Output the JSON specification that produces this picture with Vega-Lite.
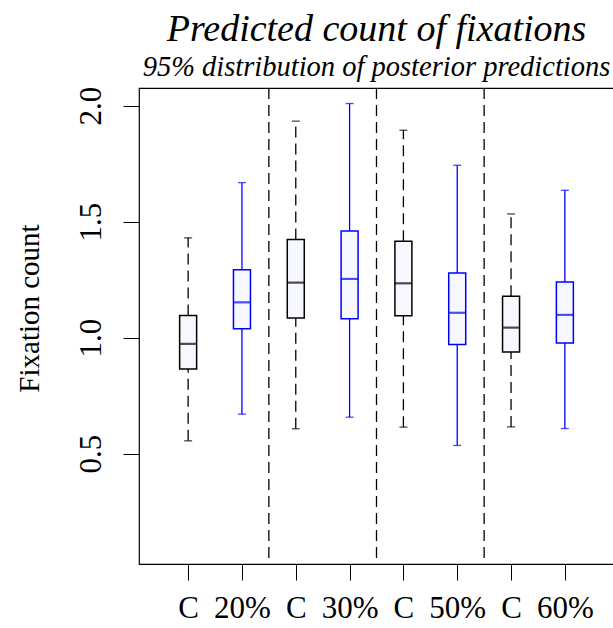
{
  "$schema": "https://vega.github.io/schema/vega-lite/v6.json",
  "autosize": "none",
  "width": 475,
  "height": 476,
  "padding": {"left": 139, "top": 88, "right": 0, "bottom": 64},
  "background": "white",
  "config": {
    "view": {"stroke": "black", "strokeWidth": 1.2},
    "font": "Liberation Serif"
  },
  "title": {
    "text": "Predicted count of fixations",
    "subtitle": "95% distribution of posterior predictions",
    "font": "Liberation Serif",
    "subtitleFont": "Liberation Serif",
    "fontSize": 38,
    "subtitleFontSize": 28.5,
    "fontStyle": "italic",
    "subtitleFontStyle": "italic",
    "fontWeight": "normal",
    "subtitleFontWeight": "normal",
    "color": "black",
    "subtitleColor": "black",
    "anchor": "middle",
    "offset": 5,
    "subtitlePadding": 4
  },
  "datasets": {
    "boxes": [
      {"pos": 1, "lab": "C", "grp": "C", "lo": 0.555, "q1": 0.865, "med": 0.973, "q3": 1.095, "hi": 1.430},
      {"pos": 2, "lab": "20%", "grp": "T", "lo": 0.670, "q1": 1.038, "med": 1.152, "q3": 1.293, "hi": 1.668},
      {"pos": 3, "lab": "C", "grp": "C", "lo": 0.607, "q1": 1.085, "med": 1.237, "q3": 1.423, "hi": 1.933},
      {"pos": 4, "lab": "30%", "grp": "T", "lo": 0.657, "q1": 1.081, "med": 1.253, "q3": 1.460, "hi": 2.009},
      {"pos": 5, "lab": "C", "grp": "C", "lo": 0.614, "q1": 1.094, "med": 1.234, "q3": 1.415, "hi": 1.894},
      {"pos": 6, "lab": "50%", "grp": "T", "lo": 0.535, "q1": 0.970, "med": 1.107, "q3": 1.279, "hi": 1.743},
      {"pos": 7, "lab": "C", "grp": "C", "lo": 0.615, "q1": 0.938, "med": 1.043, "q3": 1.178, "hi": 1.533},
      {"pos": 8, "lab": "60%", "grp": "T", "lo": 0.608, "q1": 0.977, "med": 1.098, "q3": 1.240, "hi": 1.635}
    ],
    "seps": [
      {"pos": 2.5},
      {"pos": 4.5},
      {"pos": 6.5}
    ]
  },
  "encoding": {
    "x": {
      "field": "pos",
      "type": "quantitative",
      "scale": {"domain": [0.18, 8.82], "nice": false, "zero": false},
      "axis": {
        "values": [1, 2, 3, 4, 5, 6, 7, 8],
        "labelExpr": "['C','20%','C','30%','C','50%','C','60%'][datum.value-1]",
        "title": null,
        "grid": false,
        "domain": false,
        "tickSize": 16,
        "tickColor": "black",
        "tickWidth": 1,
        "labelFont": "Liberation Serif",
        "labelFontSize": 31,
        "labelColor": "black",
        "labelBaseline": "alphabetic",
        "labelPadding": 37,
        "labelFlush": false,
        "labelOverlap": false
      }
    }
  },
  "layer": [
    {
      "data": {"name": "seps"},
      "mark": {"type": "rule", "color": "black", "strokeWidth": 1.3, "strokeDash": [11, 6]},
      "encoding": {}
    },
    {
      "data": {"name": "boxes"},
      "mark": {"type": "rule", "strokeWidth": 1.3},
      "encoding": {
        "y": {"field": "q3", "type": "quantitative", "title": "Fixation count", "scale": {"domain": [0.024, 2.076], "nice": false, "zero": false}},
        "y2": {"field": "hi"},
        "color": {"field": "grp", "type": "nominal", "scale": {"domain": ["C", "T"], "range": ["#000000", "#0000FF"]}, "legend": null},
        "strokeDash": {"field": "grp", "type": "nominal", "scale": {"domain": ["C", "T"], "range": [[11, 6], [1, 0]]}, "legend": null}
      }
    },
    {
      "data": {"name": "boxes"},
      "mark": {"type": "rule", "strokeWidth": 1.3},
      "encoding": {
        "y": {"field": "lo", "type": "quantitative", "title": "Fixation count", "scale": {"domain": [0.024, 2.076], "nice": false, "zero": false}},
        "y2": {"field": "q1"},
        "color": {"field": "grp", "type": "nominal", "scale": {"domain": ["C", "T"], "range": ["#000000", "#0000FF"]}, "legend": null},
        "strokeDash": {"field": "grp", "type": "nominal", "scale": {"domain": ["C", "T"], "range": [[11, 6], [1, 0]]}, "legend": null}
      }
    },
    {
      "data": {"name": "boxes"},
      "mark": {"type": "bar", "size": 17, "fill": "#F7F8FF", "strokeWidth": 1.5},
      "encoding": {
        "y": {
          "field": "q1",
          "type": "quantitative",
          "title": "Fixation count",
          "scale": {"domain": [0.024, 2.076], "nice": false, "zero": false},
          "axis": {
            "values": [0.5, 1, 1.5, 2],
            "format": ".1f",
            "grid": false,
            "domain": false,
            "tickSize": 16,
            "tickColor": "black",
            "tickWidth": 1,
            "labelFont": "Liberation Serif",
            "labelFontSize": 31,
            "labelColor": "black",
            "labelAngle": -90,
            "labelAlign": "center",
            "labelBaseline": "alphabetic",
            "labelPadding": 23,
            "labelFlush": false,
            "labelOverlap": false,
            "titleFont": "Liberation Serif",
            "titleFontSize": 29,
            "titleFontWeight": "normal",
            "titleColor": "black",
            "titleBaseline": "alphabetic",
            "titleY": 220,
            "titleAlign": "center",
            "titlePadding": 37
          }
        },
        "y2": {"field": "q3"},
        "stroke": {"field": "grp", "type": "nominal", "scale": {"domain": ["C", "T"], "range": ["#000000", "#0000FF"]}, "legend": null}
      }
    },
    {
      "data": {"name": "boxes"},
      "mark": {"type": "tick", "orient": "horizontal", "size": 17, "thickness": 2.2},
      "encoding": {
        "y": {"field": "med", "type": "quantitative", "title": "Fixation count", "scale": {"domain": [0.024, 2.076], "nice": false, "zero": false}},
        "color": {"field": "grp", "type": "nominal", "scale": {"domain": ["C", "T"], "range": ["#000000", "#0000FF"]}, "legend": null}
      }
    },
    {
      "data": {"name": "boxes"},
      "mark": {"type": "tick", "orient": "horizontal", "size": 8, "thickness": 1.3},
      "encoding": {
        "y": {"field": "hi", "type": "quantitative", "title": "Fixation count", "scale": {"domain": [0.024, 2.076], "nice": false, "zero": false}},
        "color": {"field": "grp", "type": "nominal", "scale": {"domain": ["C", "T"], "range": ["#000000", "#0000FF"]}, "legend": null}
      }
    },
    {
      "data": {"name": "boxes"},
      "mark": {"type": "tick", "orient": "horizontal", "size": 8, "thickness": 1.3},
      "encoding": {
        "y": {"field": "lo", "type": "quantitative", "title": "Fixation count", "scale": {"domain": [0.024, 2.076], "nice": false, "zero": false}},
        "color": {"field": "grp", "type": "nominal", "scale": {"domain": ["C", "T"], "range": ["#000000", "#0000FF"]}, "legend": null}
      }
    }
  ]
}
